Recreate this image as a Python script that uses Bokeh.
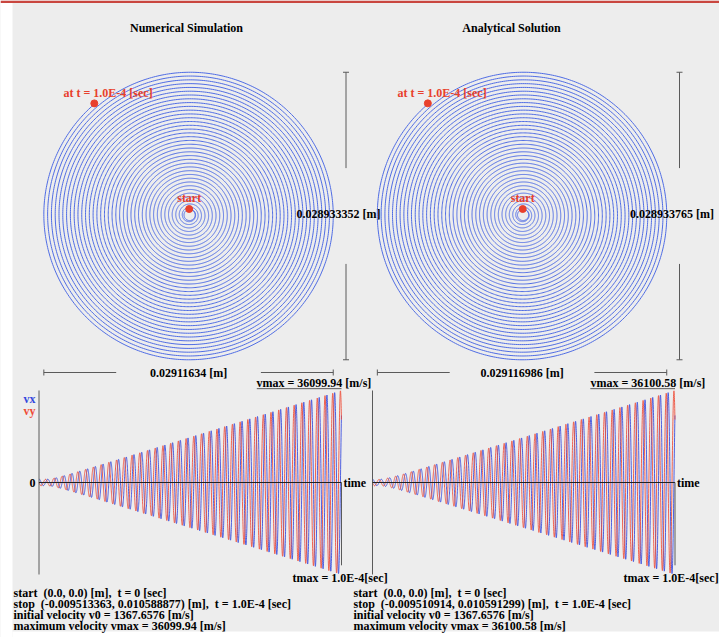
import numpy as np
from bokeh.plotting import figure
from bokeh.models import Range1d
from bokeh.embed import file_html
from bokeh.resources import INLINE
from bokeh.core.properties import value

NB = "\u00a0"  # keeps the double spaces of the original texts

# ---------------- values ----------------
panel_titles = ["Numerical Simulation", "Analytical Solution"]
t_max = 1.0e-4                              # [sec]
v_initial = [1367.6576, 1367.6576]          # [m/s]
v_maximum = [36099.94, 36100.58]            # [m/s]
stop_x = [-0.009513363, -0.009510914]       # [m]
stop_y = [0.010588877, 0.010591299]         # [m]
width_labels = ["0.02911634 [m]", "0.029116986 [m]"]
height_labels = ["0.028933352 [m]", "0.028933765 [m]"]
vmax_labels = ["vmax = 36099.94 [m/s]", "vmax = 36100.58 [m/s]"]
tmax_label = "tmax = 1.0E-4[sec]"
at_label = "at t = 1.0E-4 [sec]"
info_left = ["start  (0.0, 0.0) [m],  t = 0 [sec]",
             "stop  (-0.009513363, 0.010588877) [m],  t = 1.0E-4 [sec]",
             "initial velocity v0 = 1367.6576 [m/s]",
             "maximum velocity vmax = 36099.94 [m/s]"]
info_right = ["start  (0.0, 0.0) [m],  t = 0 [sec]",
              "stop  (-0.009510914, 0.010591299) [m],  t = 1.0E-4 [sec]",
              "initial velocity v0 = 1367.6576 [m/s]",
              "maximum velocity vmax = 36100.58 [m/s]"]


def trajectory(v0, vmax, sx, sy, T, n=16000):
    """Gyrating particle whose speed grows from v0 to vmax and that ends at (sx, sy)."""
    S = complex(sx, sy)
    a2 = abs(S) ** 2
    b = 2 * v0 * sy
    c = v0 ** 2 - vmax ** 2
    w = (-b + np.sqrt(b * b - 4 * a2 * c)) / (2 * a2)
    E = np.exp(-1j * w * T)
    W = (v0 - 1j * w * S) / E
    A = (W - v0) / T
    t = np.linspace(0, T, n)
    vel = (v0 + A * t) * np.exp(-1j * w * t)
    dt = t[1] - t[0]
    pos = np.concatenate([[0], np.cumsum((vel[1:] + vel[:-1]) / 2 * dt)])
    return t, vel, pos


# ---------------- layout (screen pixels of the window) ----------------
W_FIG, H_FIG = 719, 637
X_L, X_R = 0, W_FIG
Y_T, Y_B = 0, H_FIG

BG = "#ededed"
RED = "#e8402c"
BLUE = "#4f6ce4"
VX_C = "#3347dd"
VY_C = "#ef4a35"
GREY = "#5a5a5a"
FONT = value("Liberation Serif")

p = figure(width=W_FIG, height=H_FIG, x_range=Range1d(X_L, X_R), y_range=Range1d(Y_B, Y_T),
           output_backend="svg", toolbar_location=None, min_border=0,
           x_axis_location=None, y_axis_location=None,
           background_fill_color=BG, border_fill_color="white", outline_line_color=None)
p.grid.visible = False

s_px = 9975.0                 # pixels per metre for the spirals
spiral_x0 = [188.7, 522.2]    # screen position of the start point
spiral_y0 = 208.5
t_x0 = [38.5, 372.0]          # screen x of t = 0
t_px = 302.5 / t_max          # pixels per second
v_y0 = 482.0                  # screen y of v = 0
v_px = 92.0 / 36100.0         # pixels per m/s

p.extra_y_ranges = {
    "sy": Range1d((spiral_y0 - Y_B) / s_px, (spiral_y0 - Y_T) / s_px),
    "vv": Range1d((v_y0 - Y_B) / v_px, (v_y0 - Y_T) / v_px),
}
xr = {}
for i in range(2):
    xr[f"s{i}"] = Range1d((X_L - spiral_x0[i]) / s_px, (X_R - spiral_x0[i]) / s_px)
    xr[f"t{i}"] = Range1d((X_L - t_x0[i]) / t_px, (X_R - t_x0[i]) / t_px)
p.extra_x_ranges = xr

# page frame: white strip left, red rule on top, white below
p.quad(left=0, right=12, bottom=Y_B, top=Y_T, fill_color="white", line_color=None)
p.quad(left=12, right=X_R, bottom=637, top=631, fill_color="white", line_color=None)
p.quad(left=0, right=X_R, bottom=2.5, top=0, fill_color="#c9463f", line_color=None)


def txt(x, y, s, color="black", align="center", size="12px", **kw):
    p.text(x=[x], y=[y], text=[s.replace("  ", " " + NB)], text_color=color, text_font=FONT,
           text_font_style="bold", text_font_size=size, text_align=align,
           text_baseline="middle", **kw)


title_x = [186, 511]
bar_v_x = [345.5, 679.0]
at_x = [63, 397]
vmax_x = [256, 590]
tmax_x = [292, 623]
info_x = [13, 353]
info_sets = [info_left, info_right]

for i in range(2):
    sx, tx = f"s{i}", f"t{i}"
    t, vel, pos = trajectory(v_initial[i], v_maximum[i], stop_x[i], stop_y[i], t_max)
    px, py = pos.real, pos.imag

    # spiral
    p.line(px, py, x_range_name=sx, y_range_name="sy", line_color=BLUE, line_width=1)
    # start / stop points
    p.scatter([0.0], [0.0], x_range_name=sx, y_range_name="sy", size=7, color=RED)
    p.scatter([stop_x[i]], [stop_y[i]], x_range_name=sx, y_range_name="sy", size=7, color=RED)

    # horizontal size bar (first and last quarter)
    xmin, xmax = px.min(), px.max()
    q = (xmax - xmin) / 4
    p.segment(x0=[xmin, xmax - q], x1=[xmin + q, xmax], y0=[372, 372], y1=[372, 372],
              x_range_name=sx, line_color=GREY, line_width=1)
    p.segment(x0=[xmin, xmax], x1=[xmin, xmax], y0=[369, 369], y1=[375, 375],
              x_range_name=sx, line_color=GREY, line_width=1)
    # vertical size bar (first and last third)
    ymin, ymax = py.min(), py.max()
    r = (ymax - ymin) / 3
    p.segment(x0=[bar_v_x[i]] * 2, x1=[bar_v_x[i]] * 2, y0=[ymax, ymin + r], y1=[ymax - r, ymin],
              y_range_name="sy", line_color=GREY, line_width=1)
    p.segment(x0=[bar_v_x[i] - 3, bar_v_x[i] - 3], x1=[bar_v_x[i] + 3, bar_v_x[i] + 3],
              y0=[ymax, ymin], y1=[ymax, ymin], y_range_name="sy", line_color=GREY, line_width=1)

    # velocity traces
    step = 4
    p.line(t[::step], vel.real[::step], x_range_name=tx, y_range_name="vv", line_color=VX_C,
           line_width=1, line_alpha=0.85)
    p.line(t[::step], vel.imag[::step], x_range_name=tx, y_range_name="vv", line_color=VY_C,
           line_width=1, line_alpha=0.85)
    vm = v_maximum[i]
    # axes of the velocity plot
    p.segment(x0=[0.0], x1=[0.0], y0=[vm], y1=[-vm], x_range_name=tx, y_range_name="vv",
              line_color=GREY, line_width=1)
    p.segment(x0=[0.0], x1=[t_max], y0=[0.0], y1=[0.0], x_range_name=tx, y_range_name="vv",
              line_color="#222222", line_width=1)
    p.segment(x0=[t_max], x1=[t_max], y0=[0.0], y1=[-0.9 * vm], x_range_name=tx, y_range_name="vv",
              line_color=GREY, line_width=1)
    p.segment(x0=[0.72 * t_max], x1=[t_max], y0=[1.02 * vm], y1=[1.02 * vm], x_range_name=tx,
              y_range_name="vv", line_color=GREY, line_width=1)

    # texts
    txt(title_x[i], 27, panel_titles[i])
    txt(at_x[i], 92, at_label, color=RED, align="left")
    txt(spiral_x0[i], 197, "start", color=RED)
    p.text(x=[(xmin + xmax) / 2], y=[372], text=[width_labels[i]], x_range_name=sx,
           text_color="black", text_font=FONT, text_font_style="bold", text_font_size="12px",
           text_align="center", text_baseline="middle")
    txt(bar_v_x[i] - 49.5, 213, height_labels[i], align="left")
    txt(vmax_x[i], 382, vmax_labels[i], align="left")
    txt(t_x0[i] + 304.5, 482, "time", align="left")
    txt(tmax_x[i], 577, tmax_label, align="left")
    for k, line in enumerate(info_sets[i]):
        txt(info_x[i], 592 + 11 * k, line, align="left")

txt(29, 398, "vx", color=VX_C)
txt(29, 410, "vy", color=VY_C)
txt(32, 482, "0")

open("out.html", "w").write(file_html(p, INLINE))
